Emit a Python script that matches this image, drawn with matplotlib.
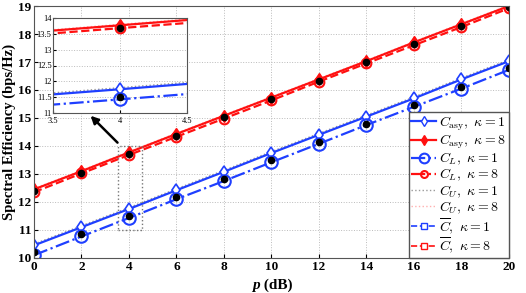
import numpy as np
import matplotlib.pyplot as plt
from matplotlib.lines import Line2D

plt.rcParams['font.family'] = ['Liberation Serif', 'DejaVu Serif']
plt.rcParams['mathtext.fontset'] = 'cm'

p_db = [0, 2, 4, 6, 8, 10, 12, 14, 16, 18, 20]

casy_k1 = [10.45, 11.10, 11.75, 12.42, 13.08, 13.75, 14.40, 15.05, 15.70, 16.38, 17.03]
cl_k1 = [10.10, 10.77, 11.43, 12.10, 12.75, 13.42, 14.08, 14.75, 15.40, 16.05, 16.72]
cu_k1 = [10.50, 11.15, 11.80, 12.47, 13.13, 13.80, 14.45, 15.10, 15.75, 16.43, 17.08]
cbar_k1 = [10.20, 10.85, 11.50, 12.17, 12.83, 13.50, 14.15, 14.80, 15.47, 16.12, 16.78]

casy_k8 = [12.45, 13.10, 13.77, 14.43, 15.08, 15.73, 16.38, 17.03, 17.70, 18.35, 19.00]
cl_k8 = [12.35, 13.02, 13.68, 14.33, 14.98, 15.63, 16.30, 16.95, 17.60, 18.25, 18.92]
cu_k8 = [12.48, 13.13, 13.80, 14.46, 15.11, 15.76, 16.41, 17.06, 17.73, 18.38, 19.03]
cbar_k8 = [12.40, 13.05, 13.70, 14.37, 15.02, 15.68, 16.33, 17.00, 17.65, 18.30, 18.97]

blue = '#1f3fff'
red = '#ff1010'


def draw_curves(ax):
    ax.plot(p_db, cu_k1, ':', color='#999999', lw=1.0)
    ax.plot(p_db, cu_k8, ':', color='#ffb0b0', lw=1.0)
    ax.plot(p_db, casy_k1, '-', color=blue, lw=1.6, marker='d', ms=6,
            mfc='white', mec=blue, mew=1.2)
    ax.plot(p_db, casy_k8, '-', color=red, lw=1.6, marker='d', ms=6,
            mfc=red, mec=red)
    ax.plot(p_db, cl_k1, '-.', color=blue, lw=1.6, marker='o', ms=9,
            mfc='none', mec=blue, mew=1.5)
    ax.plot(p_db, cl_k8, '--', color=red, lw=1.6, marker='o', ms=7,
            mfc='none', mec=red, mew=1.5)
    ax.plot(p_db, cbar_k1, 'o', color='black', ms=4.5)
    ax.plot(p_db, cbar_k8, 'o', color='black', ms=4.5)


fig = plt.figure(figsize=(5.26, 2.93), dpi=100)
ax = fig.add_axes([0.0646, 0.1195, 0.9030, 0.8600])
draw_curves(ax)

ax.set_xlim(0, 20)
ax.set_ylim(10, 19)
ax.set_xticks(np.arange(0, 21, 2))
ax.set_yticks(np.arange(10, 20, 1))
ax.grid(True, color='#bbbbbb', linestyle=':', linewidth=0.7)
ax.tick_params(labelsize=9.5, direction='in', length=3, pad=2)
for lab in ax.get_xticklabels() + ax.get_yticklabels():
    lab.set_fontweight('bold')
for s in ax.spines.values():
    s.set_color('#555555')
ax.text(0.475, -0.083, 'p', transform=ax.transAxes, ha='right', va='top',
        fontsize=11, fontweight='bold', fontstyle='italic')
ax.text(0.475, -0.083, ' (dB)', transform=ax.transAxes, ha='left', va='top',
        fontsize=11, fontweight='bold')
ax.set_ylabel('Spectral Efficiency (bps/Hz)', fontsize=10.5, fontweight='bold', labelpad=1)

# zoom box and arrow
ax.plot([3.55, 4.55, 4.55, 3.55, 3.55], [11.0, 11.0, 14.0, 14.0, 11.0], ':',
        color='#777777', lw=1.0)
ax.annotate('', xy=(2.3, 15.15), xytext=(3.6, 14.05),
            arrowprops=dict(arrowstyle='-|>', color='black', lw=1.8, mutation_scale=11))

handles = [
    Line2D([], [], color=blue, lw=1.6, marker='d', ms=5, mfc='white', mec=blue),
    Line2D([], [], color=red, lw=1.6, marker='d', ms=5, mfc=red, mec=red),
    Line2D([], [], color=blue, lw=1.6, ls='-.', marker='o', ms=7, mfc='none', mec=blue, mew=1.5),
    Line2D([], [], color=red, lw=1.6, ls='-.', marker='o', ms=5, mfc='none', mec=red, mew=1.5),
    Line2D([], [], color='#999999', lw=1.0, ls=':'),
    Line2D([], [], color='#ffb0b0', lw=1.0, ls=':'),
    Line2D([], [], color=blue, lw=1.2, ls='--', marker='s', ms=4, mfc='white', mec=blue),
    Line2D([], [], color=red, lw=1.2, ls='--', marker='s', ms=4, mfc='white', mec=red),
]
labels = [
    r'$C_{\rm asy},\ \kappa=1$', r'$C_{\rm asy},\ \kappa=8$',
    r'$C_L,\ \kappa=1$', r'$C_L,\ \kappa=8$',
    r'$C_U,\ \kappa=1$', r'$C_U,\ \kappa=8$',
    r'$\overline{C},\ \kappa=1$', r'$\overline{C},\ \kappa=8$',
]
leg = ax.legend(handles, labels, loc='lower right', fontsize=10, handlelength=1.8,
                handletextpad=0.2, labelspacing=0.0, borderpad=0.2, borderaxespad=0.0,
                fancybox=False, framealpha=1, edgecolor='#555555')
leg.get_frame().set_linewidth(1.0)

# inset
axin = fig.add_axes([53 / 526, 1 - 113 / 293, 134 / 526, 95 / 293])
draw_curves(axin)
axin.set_xlim(3.5, 4.5)
axin.set_ylim(11, 14)
axin.set_xticks([3.5, 4, 4.5])
axin.set_xticklabels(['3.5', '4', '4.5'])
axin.set_yticks(np.arange(11, 14.01, 0.5))
axin.set_yticklabels(['11', '11.5', '12', '12.5', '13', '13.5', '14'])
axin.grid(True, color='#bbbbbb', linestyle=':', linewidth=0.7)
axin.tick_params(labelsize=6, direction='in', length=2, pad=1)
axin.tick_params(axis='x', pad=3)
for s in axin.spines.values():
    s.set_color('#555555')

fig.savefig('out.png', dpi=100)
